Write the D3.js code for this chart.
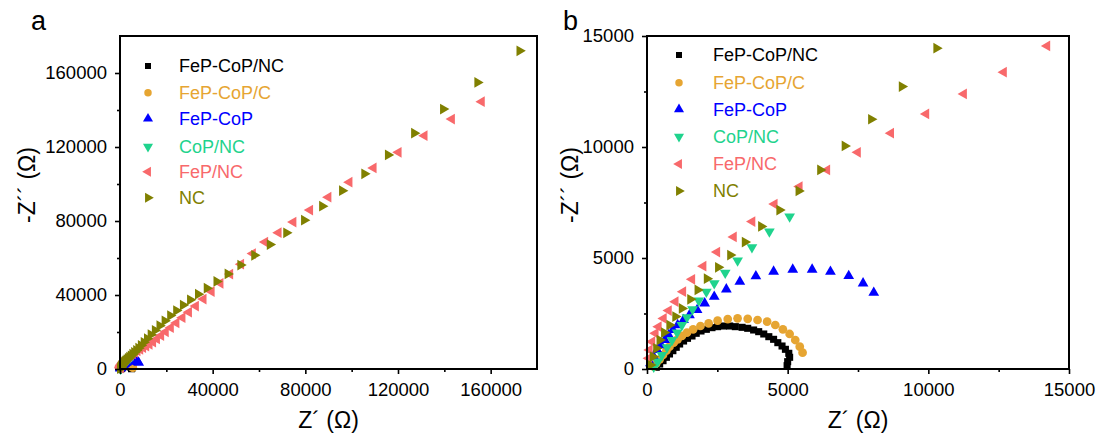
<!DOCTYPE html>
<html><head><meta charset="utf-8">
<script src="https://cdn.jsdelivr.net/npm/d3@7"></script>
<style>
body{margin:0;background:#fff}
svg text{font-family:"Liberation Sans",Arial,Helvetica,sans-serif}
</style>
</head><body>
<svg id="c" width="1101" height="436"></svg>
<script>
// ---------- data (Z' , -Z'' in ohm) ----------
const seriesNames  = ["FeP-CoP/NC","FeP-CoP/C","FeP-CoP","CoP/NC","FeP/NC","NC"];
const seriesColors = ["#000000","#E6A532","#0000FF","#1FD38D","#F8696B","#808000"];
const seriesShapes = ["square","circle","triUp","triDown","triLeft","triRight"];

const FePCoPNC = [[330,77],[450,225],[570,374],[690,527],[800,676],[920,825],[1040,977],[1160,1126],[1300,1261],[1440,1382],[1600,1487],[1750,1608],[1920,1712],[2110,1787],[2310,1862],[2510,1907],[2720,1937],[2940,1937],[3140,1907],[3380,1877],[3580,1833],[3790,1757],[3970,1682],[4150,1577],[4330,1456],[4500,1337],[4650,1186],[4800,1036],[4920,887],[5040,707],[5070,527],[5000,330],[4980,150]];
const FePCoPC = [[240,104],[330,257],[450,437],[570,630],[690,825],[800,1005],[950,1186],[1090,1337],[1240,1487],[1420,1637],[1640,1787],[1900,1937],[2190,2057],[2510,2178],[2870,2250],[3220,2283],[3580,2260],[3930,2207],[4270,2130],[4560,1982],[4830,1787],[5070,1577],[5270,1306],[5430,1005],[5530,735]];
const FePCoP = [[120,260],[240,550],[360,860],[500,1080],[630,1310],[770,1530],[920,1760],[1090,1980],[1300,2210],[1510,2430],[1780,2660],[2050,2960],[2390,3260],[2820,3590],[3300,3930],[3870,4180],[4500,4390],[5180,4480],[5870,4480],[6520,4380],[7170,4190],[7680,3860],[8060,3440]];
const CoPNC = [[240,104],[380,330],[530,630],[710,977],[890,1306],[1070,1637],[1240,1982],[1420,2330],[1620,2690],[1840,3080],[2110,3480],[2390,3860],[2780,4330],[3220,4880],[3730,5480],[4350,6190],[5070,6870]];
const FePNC = [[60,480],[90,856],[180,1230],[300,1610],[410,1906],[590,2280],[770,2630],[1010,3030],[1280,3480],[1600,4040],[2000,4630],[2490,5270],[3080,5950],[3740,6640],[4530,7430],[5420,8220],[6400,8965],[7490,9760],[8670,10620],[9920,11490],[11260,12390],[12680,13370],[14220,14550],[15900,16220],[17700,18050],[19700,20090],[21900,22340],[24300,24910],[26900,27710],[29700,30740],[32700,34010],[36000,37800],[39500,41870],[43300,46330],[47500,51300],[52200,56640],[57300,62400],[62600,68600],[68400,73700],[74800,79400],[82000,85900],[89900,92900],[99000,101000],[109400,108700],[120200,117100],[131400,126100],[143200,135100],[156100,144500]];
const NC = [[120,180],[210,555],[330,930],[450,1306],[610,1640],[800,1980],[1010,2360],[1240,2730],[1540,3140],[1800,3560],[2130,4070],[2530,4580],[2960,5130],[3480,5720],[4060,6420],[4710,7160],[5390,8020],[6160,8965],[7030,10050],[7970,11250],[9060,12720],[10290,14450],[11700,16380],[13300,18550],[15100,20910],[17100,23430],[19300,26060],[21700,28860],[24300,31590],[27200,34540],[30300,37420],[33700,40440],[37500,43690],[41700,47330],[46500,51380],[52000,56160],[58000,61480],[64700,67290],[71800,73600],[79500,80450],[87300,88000],[95900,96380],[105500,105500],[115700,115700],[127000,127500],[139500,140500],[154300,154900],[172500,172000]];
const allSeries = [FePCoPNC, FePCoPC, FePCoP, CoPNC, FePNC, NC];

// axis ticks
const ticksA = [0,40000,80000,120000,160000];
const minorA = [20000,60000,100000,140000];
const ticksB = [0,5000,10000,15000];
const minorB = [2500,7500,12500];

const xTitle = "Z\u00B4 (\u03A9)";
const yTitle = "-Z\u00B4\u00B4 (\u03A9)";

// ---------- layout ----------
const panels = [
  {label:"a", labelX:31, left:120, right:537, top:36, bottom:369, max:180000, ticks:ticksA, minor:minorA,
   yTitleX:27, legX:148, legTextX:179, legY:[66,92.7,118.7,146.7,171.7,197.7]},
  {label:"b", labelX:563, left:647, right:1069, top:36, bottom:369, max:15000, ticks:ticksB, minor:minorB,
   yTitleX:570, legX:679, legTextX:713, legY:[55,82.7,109.3,136.7,164,191]}
];

const svg = d3.select("#c");

function symbolPath(shape, size){
  const t = {square:d3.symbolSquare, circle:d3.symbolCircle}[shape] || d3.symbolTriangle;
  return d3.symbol().type(t).size(size)();
}
function shapeRot(shape){
  return {triDown:180, triLeft:-90, triRight:90}[shape] || 0;
}
function shapeSize(shape){
  return shape==="square" ? 50 : shape==="circle" ? 60 : 50;
}

panels.forEach(p => {
  const x = d3.scaleLinear().domain([0,p.max]).range([p.left,p.right]);
  const y = d3.scaleLinear().domain([0,p.max]).range([p.bottom,p.top]);
  const g = svg.append("g");

  // data markers
  allSeries.forEach((data,i) => {
    const shape = seriesShapes[i];
    const d = symbolPath(shape, shapeSize(shape));
    g.append("g").selectAll("path")
      .data(data.filter(v => v[0] <= p.max && v[1] <= p.max))
      .join("path")
      .attr("d", d)
      .attr("fill", seriesColors[i])
      .attr("transform", v => `translate(${x(v[0])},${y(v[1])}) rotate(${shapeRot(shape)})`);
  });

  // axes
  const fmt = d3.format("d");
  const xa = g.append("g").attr("transform",`translate(0,${p.bottom})`)
    .call(d3.axisBottom(x).tickValues(p.ticks).tickSize(5).tickPadding(9).tickFormat(fmt));
  const xm = g.append("g").attr("transform",`translate(0,${p.bottom})`)
    .call(d3.axisBottom(x).tickValues(p.minor).tickSize(3).tickFormat(""));
  const ya = g.append("g").attr("transform",`translate(${p.left},0)`)
    .call(d3.axisLeft(y).tickValues(p.ticks).tickSize(5).tickPadding(8).tickFormat(fmt));
  const ym = g.append("g").attr("transform",`translate(${p.left},0)`)
    .call(d3.axisLeft(y).tickValues(p.minor).tickSize(3).tickFormat(""));
  [xa,xm,ya,ym].forEach(a => {
    a.select(".domain").remove();
    a.selectAll("line").attr("stroke","#000").attr("stroke-width",1.6);
    a.selectAll("text").attr("font-size",18.5).attr("fill","#000")
      .attr("font-family","'Liberation Sans',Arial,sans-serif");
  });

  // frame
  g.append("rect").attr("x",p.left).attr("y",p.top)
    .attr("width",p.right-p.left).attr("height",p.bottom-p.top)
    .attr("fill","none").attr("stroke","#000").attr("stroke-width",2);

  // titles
  g.append("text").attr("x",(p.left+p.right)/2).attr("y",428)
    .attr("text-anchor","middle").attr("font-size",23).text(xTitle);
  g.append("text").attr("transform",`translate(${p.yTitleX},185) rotate(-90)`)
    .attr("text-anchor","middle").attr("dy","0.35em").attr("font-size",23).text(yTitle);
  g.append("text").attr("x",p.labelX).attr("y",30).attr("font-size",27).text(p.label);

  // legend
  seriesNames.forEach((name,i) => {
    const shape = seriesShapes[i];
    g.append("path").attr("d", symbolPath(shape, shape==="square"?36:44))
      .attr("fill",seriesColors[i])
      .attr("transform",`translate(${p.legX},${p.legY[i]}) rotate(${shapeRot(shape)})`);
    g.append("text").attr("x",p.legTextX).attr("y",p.legY[i]).attr("dy","0.35em")
      .attr("font-size",18).attr("fill",seriesColors[i]).text(name);
  });
});
</script>
</body></html>
